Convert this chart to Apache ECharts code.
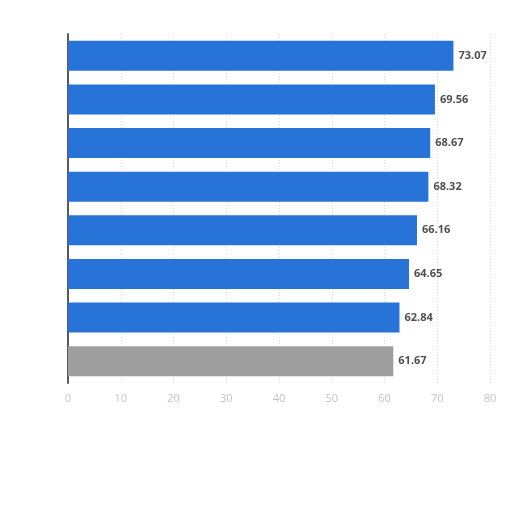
<!DOCTYPE html>
<html>
<head>
<meta charset="utf-8">
<script src="https://cdn.jsdelivr.net/npm/echarts@6/dist/echarts.min.js"></script>
<style>html,body{margin:0;padding:0;background:#fff;}#c{width:512px;height:512px;}</style>
</head>
<body>
<div id="c"></div>
<script>
const categories = ["1", "2", "3", "4", "5", "6", "7", "8"];
const values = [73.07, 69.56, 68.67, 68.32, 66.16, 64.65, 62.84, 61.67];
const highlightIndex = 7;
const xTicks = [0, 10, 20, 30, 40, 50, 60, 70, 80];

const chart = echarts.init(document.getElementById('c'));
chart.setOption({
  animation: false,
  grid: { left: 68, right: 22, top: 34, bottom: 129 },
  xAxis: {
    type: 'value', min: 0, max: 80, interval: 10,
    axisLine: { show: false }, axisTick: { show: false },
    axisLabel: { color: '#c4c4c4', fontSize: 11, fontFamily: 'Open Sans', margin: 10,
      formatter: v => xTicks.includes(v) ? String(v) : '' },
    splitLine: { show: true, lineStyle: { color: '#dcdcdc', type: [1, 2], width: 1 } }
  },
  yAxis: {
    type: 'category', data: categories, inverse: true,
    axisLine: { show: true, lineStyle: { color: '#5a5a5a', width: 2 } },
    axisTick: { show: false }, axisLabel: { show: false }
  },
  series: [{
    type: 'bar',
    data: values.map((v, i) => ({
      value: v,
      itemStyle: { color: i === highlightIndex ? '#9e9e9e' : '#2873d8' }
    })),
    barWidth: 30,
    label: {
      show: true, position: 'right', distance: 5,
      color: '#505050', fontSize: 11, fontWeight: 'bold', fontFamily: 'Open Sans',
      formatter: p => p.value.toFixed(2)
    }
  }]
});
</script>
</body>
</html>
